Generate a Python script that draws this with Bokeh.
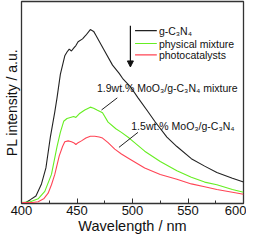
from bokeh.plotting import figure
from bokeh.models import Label, Arrow, NormalHead, FixedTicker
from bokeh.embed import file_html
from bokeh.resources import INLINE

# ---- data ----
wl_black = [400, 404, 408, 413, 418, 422, 426, 430, 432, 435, 439, 441, 443, 445, 447, 449, 451, 455, 458, 462,
            465, 467, 474, 482, 488, 491, 498, 505, 514, 520, 531, 540, 553, 565, 576, 590, 600]
pl_black = [0.5, 0.5, 1.9, 3.7, 9.7, 17.6, 32.9, 45.4, 52.3, 63.9, 73.1, 75.0, 76.4, 75.5, 76.9, 78.2, 80.1, 81.5, 83.3, 86.1,
            85.2, 83.3, 76.4, 68.5, 64.4, 62.0, 57.9, 52.3, 45.4, 40.7, 32.9, 28.2, 22.2, 18.5, 15.3, 12.5, 10.6]

wl_green = [400, 408, 415, 421, 427, 432, 435, 438, 441, 444, 447, 449, 452, 457, 462, 465, 468, 473, 478, 485,
            490, 497, 511, 525, 540, 553, 565, 576, 590, 600]
pl_green = [0.5, 0.9, 2.3, 6.0, 14.4, 28.2, 35.2, 40.7, 42.1, 42.6, 43.1, 42.6, 44.4, 46.3, 47.7, 47.2, 46.3, 44.9, 40.3, 37.0,
            35.2, 32.4, 25.9, 20.8, 16.2, 13.0, 10.6, 9.3, 6.9, 5.6]

wl_red = [400, 410, 415, 420, 424, 427, 430, 434, 437, 439, 442, 445, 447, 449, 451, 454, 458, 462, 466, 470,
          473, 478, 484, 490, 497, 511, 525, 540, 553, 565, 576, 590, 600]
pl_red = [0.5, 0.5, 0.9, 2.3, 5.1, 9.3, 14.4, 23.6, 28.2, 30.6, 31.0, 30.6, 30.1, 29.2, 30.1, 31.0, 32.4, 33.3, 33.3, 32.9,
          32.4, 30.1, 26.9, 24.5, 22.2, 17.6, 14.4, 12.0, 9.7, 8.3, 6.9, 5.6, 4.6]

series_names = ["g-C\u2083N\u2084", "physical mixture", "photocatalysts"]
series_colors = ["#222222", "#66ee22", "#ff4455"]
x_ticks = [400, 450, 500, 550, 600]

FONT = "Liberation Sans"

p = figure(width=246, height=236, x_range=(400, 600), y_range=(0, 100),
           output_backend="svg", toolbar_location=None,
           min_border_left=0, min_border_right=3, min_border_top=1, min_border_bottom=0)
p.grid.visible = False
p.background_fill_color = "white"
p.border_fill_color = "white"
p.outline_line_color = "#333333"
p.outline_line_width = 1.3

# x axis
xa = p.xaxis[0]
xa.ticker = FixedTicker(ticks=x_ticks, minor_ticks=list(range(400, 601, 25)))
xa.axis_line_color = None
xa.major_tick_in = 5
xa.major_tick_out = 0
xa.minor_tick_in = 3
xa.minor_tick_out = 0
xa.major_tick_line_color = "#333333"
xa.minor_tick_line_color = "#333333"
xa.major_label_text_font = FONT
xa.major_label_text_font_size = "13px"
xa.major_label_text_color = "#111111"
xa.major_label_standoff = 2
xa.axis_label = "Wavelength / nm"
xa.axis_label_text_font = FONT
xa.axis_label_text_font_size = "14.5px"
xa.axis_label_text_font_style = "normal"
xa.axis_label_text_color = "#111111"
xa.axis_label_standoff = 0

# y axis (label only)
ya = p.yaxis[0]
ya.ticker = FixedTicker(ticks=[])
ya.axis_line_color = None
ya.major_tick_out = 0
ya.major_tick_in = 0
ya.minor_tick_out = 0
ya.major_label_standoff = 0
ya.axis_label = "PL intensity / a.u."
ya.axis_label_text_font = FONT
ya.axis_label_text_font_size = "14px"
ya.axis_label_text_font_style = "normal"
ya.axis_label_text_color = "#111111"
ya.axis_label_standoff = 2

# curves
p.line(wl_black, pl_black, line_color=series_colors[0], line_width=1.1)
p.line(wl_green, pl_green, line_color=series_colors[1], line_width=1.1)
p.line(wl_red, pl_red, line_color=series_colors[2], line_width=1.1)

# legend (manual)
leg_y = [85.6, 79.2, 73.6]
for name, col, yy in zip(series_names, series_colors, leg_y):
    p.line([502.3, 521.9], [yy, yy], line_color=col, line_width=1.2)
    p.add_layout(Label(x=523.8, y=yy, text=name, text_font=FONT, text_font_size="10.5px",
                       text_color="#111111", text_baseline="middle", text_align="left"))

# arrow
p.add_layout(Arrow(x_start=498.1, y_start=88.0, x_end=498.1, y_end=67.6,
                   line_color="#111111", line_width=1.2,
                   end=NormalHead(size=6, fill_color="#111111", line_color="#111111")))

# annotations
p.add_layout(Label(x=468.0, y=57.0, text="1.9wt.% MoO\u2083/g-C\u2083N\u2084 mixture", text_font=FONT,
                   text_font_size="10.5px", text_color="#111111", text_baseline="middle", text_align="left"))
p.line([472.1, 486.3], [46.3, 52.3], line_color="#222222", line_width=1)
p.add_layout(Label(x=498.9, y=38.4, text="1.5wt.% MoO\u2083/g-C\u2083N\u2084", text_font=FONT,
                   text_font_size="10.5px", text_color="#111111", text_baseline="middle", text_align="left"))
p.line([487.8, 504.9], [27.8, 35.2], line_color="#222222", line_width=1)

open("out.html", "w").write(file_html(p, INLINE))
